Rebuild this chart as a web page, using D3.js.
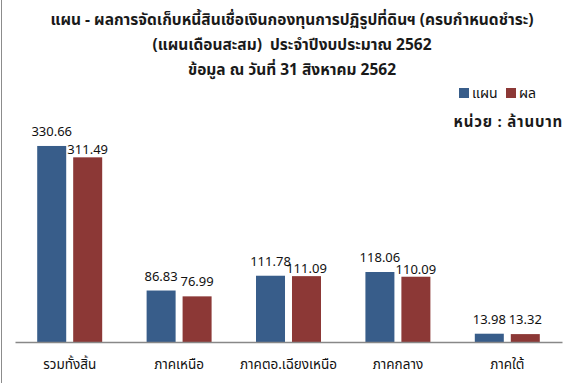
<!DOCTYPE html>
<html>
<head>
<meta charset="utf-8">
<script src="https://cdn.jsdelivr.net/npm/d3@7"></script>
<style>
  html, body { margin: 0; padding: 0; background: #fff; }
  svg { display: block; font-family: Tahoma, "Noto Sans Thai", "Noto Sans", "DejaVu Sans", sans-serif; }
</style>
</head>
<body>
<svg id="chart" width="577" height="383"></svg>
<script>
const categories = ["รวมทั้งสิ้น", "ภาคเหนือ", "ภาคตอ.เฉียงเหนือ", "ภาคกลาง", "ภาคใต้"];
const seriesNames = ["แผน", "ผล"];
const planValues = [330.66, 86.83, 111.78, 118.06, 13.98];
const resultValues = [311.49, 76.99, 111.09, 110.09, 13.32];
const titleLines = [
  "แผน - ผลการจัดเก็บหนี้สินเชื่อเงินกองทุนการปฏิรูปที่ดินฯ (ครบกำหนดชำระ)",
  "(แผนเดือนสะสม)  ประจำปีงบประมาณ 2562",
  "ข้อมูล ณ วันที่ 31 สิงหาคม 2562"
];
const unitLabel = "หน่วย : ล้านบาท";
const colors = ["#385D8A", "#8C3836"];

const svg = d3.select("#chart");
const W = 577, H = 383;

// left border
svg.append("line").attr("x1", 1.5).attr("x2", 1.5).attr("y1", 0).attr("y2", H)
  .attr("stroke", "#8c8c8c").attr("stroke-width", 1);

// title
svg.append("g").selectAll("text").data(titleLines).join("text")
  .attr("x", 292).attr("y", (d, i) => 25 + i * 25)
  .attr("text-anchor", "middle")
  .attr("font-size", 15.5).attr("font-weight", "bold").attr("fill", "#1a1a1a")
  .style("white-space", "pre")
  .text(d => d);

// scales
const x0 = d3.scaleBand().domain(categories).range([15, 562]).paddingInner(0.406).paddingOuter(0.203);
const x1 = d3.scaleBand().domain(seriesNames).range([0, x0.bandwidth()]).paddingInner(0.194);
const y = d3.scaleLinear().domain([0, 350]).range([342, 134.5]);

const rows = categories.map((c, i) => ({ cat: c, vals: [planValues[i], resultValues[i]] }));

const groups = svg.append("g").selectAll("g").data(rows).join("g")
  .attr("transform", d => `translate(${x0(d.cat)},0)`);

groups.selectAll("rect").data(d => d.vals.map((v, j) => ({ s: seriesNames[j], v, j }))).join("rect")
  .attr("x", d => x1(d.s)).attr("width", x1.bandwidth())
  .attr("y", d => y(d.v)).attr("height", d => y(0) - y(d.v))
  .attr("fill", d => colors[d.j]);

// value labels (second label drops down when it would collide with the first, as in the source)
groups.each(function(d) {
  const g = d3.select(this);
  const labels = d.vals.map((v, j) => g.append("text")
    .attr("x", x1(seriesNames[j]) + x1.bandwidth() / 2)
    .attr("y", y(v) - 10)
    .attr("text-anchor", "middle")
    .attr("font-size", 13).attr("fill", "#111")
    .text(v.toFixed(2)));
  const w0 = labels[0].node().getComputedTextLength();
  const w1 = labels[1].node().getComputedTextLength();
  const c0 = x1(seriesNames[0]) + x1.bandwidth() / 2;
  const c1 = x1(seriesNames[1]) + x1.bandwidth() / 2;
  if (c0 + w0 / 2 + 1 > c1 - w1 / 2) {
    labels[1].attr("y", y(d.vals[1]) - 3);
  }
});

// axis
const xAxis = svg.append("g").attr("transform", `translate(0,${y(0)})`)
  .call(d3.axisBottom(x0).tickSize(0).tickPadding(17).tickSizeOuter(0));
xAxis.select(".domain").attr("stroke", "#888").attr("stroke-width", 1.3);
xAxis.selectAll("text").attr("font-size", 13.5).attr("fill", "#111")
  .attr("font-family", 'Tahoma, "Noto Sans Thai", "Noto Sans", sans-serif');

// legend
const legend = svg.append("g").attr("transform", "translate(459,88)");
const lx = [0, 47];
seriesNames.forEach((s, i) => {
  legend.append("rect").attr("x", lx[i]).attr("y", 0).attr("width", 10).attr("height", 10).attr("fill", colors[i]);
  legend.append("text").attr("x", lx[i] + 13).attr("y", 9.5).attr("font-size", 14).attr("fill", "#111").text(s);
});

svg.append("text").attr("x", 563).attr("y", 127).attr("text-anchor", "end")
  .attr("font-size", 15).attr("font-weight", "bold").attr("letter-spacing", 0.8).attr("fill", "#1a1a1a")
  .style("white-space", "pre").text(unitLabel);
</script>
</body>
</html>
